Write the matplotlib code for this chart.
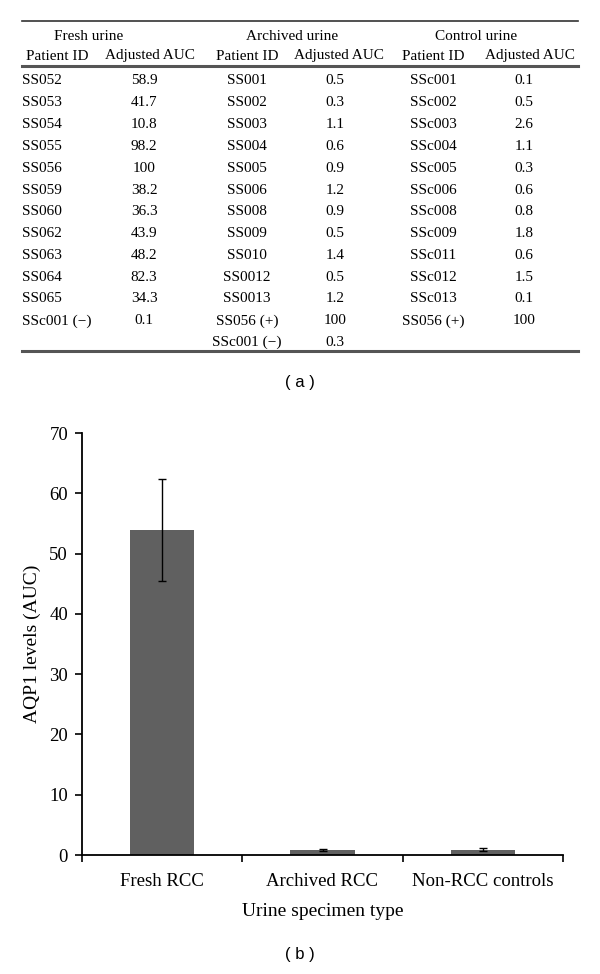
import numpy as np
import matplotlib.pyplot as plt

plt.rcParams['font.family'] = ['Liberation Serif', 'DejaVu Serif']

# table (a)
fresh_ids = ['SS052', 'SS053', 'SS054', 'SS055', 'SS056', 'SS059', 'SS060',
             'SS062', 'SS063', 'SS064', 'SS065', 'SSc001 (\u2212)']
fresh_auc = ['58.9', '41.7', '10.8', '98.2', '100', '38.2', '36.3',
             '43.9', '48.2', '82.3', '34.3', '0.1']
archived_ids = ['SS001', 'SS002', 'SS003', 'SS004', 'SS005', 'SS006', 'SS008',
                'SS009', 'SS010', 'SS0012', 'SS0013', 'SS056 (+)', 'SSc001 (\u2212)']
archived_auc = ['0.5', '0.3', '1.1', '0.6', '0.9', '1.2', '0.9',
                '0.5', '1.4', '0.5', '1.2', '100', '0.3']
control_ids = ['SSc001', 'SSc002', 'SSc003', 'SSc004', 'SSc005', 'SSc006', 'SSc008',
               'SSc009', 'SSc011', 'SSc012', 'SSc013', 'SS056 (+)']
control_auc = ['0.1', '0.5', '2.6', '1.1', '0.3', '0.6', '0.8',
               '1.8', '0.6', '1.5', '0.1', '100']
group_titles = ['Fresh urine', 'Archived urine', 'Control urine']

# bar chart (b)
categories = ['Fresh RCC', 'Archived RCC', 'Non-RCC controls']
mean_auc = [53.9, 0.83, 0.91]
sem_auc = [8.5, 0.11, 0.24]

W, H = 600, 974
fig = plt.figure(figsize=(W / 100, H / 100), dpi=100)

# overlay axes in pixel coordinates for the table
tab = fig.add_axes([0, 0, 1, 1])
tab.set_xlim(0, W)
tab.set_ylim(H, 0)
tab.axis('off')

fs = 11
tab.plot([22, 578], [21, 21], color='#333333', lw=1.2)
tab.plot([22, 578], [66, 66], color='#555555', lw=2.2)
tab.plot([22, 578], [351, 351], color='#555555', lw=2.2)

title_x = [89, 292, 476]
for x, t in zip(title_x, group_titles):
    tab.text(x, 36, t, ha='center', va='center', fontsize=fs)

id_x = [(22, 'left'), (247, 'center'), (433, 'center')]
auc_x = [144, 335, 524]
hdr_id_x = [57, 247, 433]
hdr_auc_x = [150, 339, 530]
for x in hdr_id_x:
    tab.text(x, 56, 'Patient ID', ha='center', va='center', fontsize=fs)
for x in hdr_auc_x:
    tab.text(x, 56, 'Adjusted AUC', ha='center', va='center', fontsize=fs)

cols = [(fresh_ids, fresh_auc), (archived_ids, archived_auc), (control_ids, control_auc)]
for (ids, aucs), (ix, ha), ax_ in zip(cols, id_x, auc_x):
    for i, (pid, v) in enumerate(zip(ids, aucs)):
        y = 81 + i * 21.8
        tab.text(ix, y, pid, ha=ha, va='center', fontsize=fs)
        tab.text(ax_, y, v, ha='center', va='center', fontsize=fs)

tab.text(300, 383, '( a )', ha='center', va='center', fontsize=12,
         family=['Liberation Sans', 'DejaVu Sans'])
tab.text(300, 955, '( b )', ha='center', va='center', fontsize=12,
         family=['Liberation Sans', 'DejaVu Sans'])

# bar chart
x0, x1, y0, y1 = 82, 563, 855, 433
ax = fig.add_axes([x0 / W, (H - y0) / H, (x1 - x0) / W, (y0 - y1) / H])
pos = np.arange(len(categories))
ax.bar(pos, mean_auc, width=0.4, color='#606060')
ax.errorbar(pos, mean_auc, yerr=sem_auc, fmt='none', ecolor='black',
            elinewidth=1, capsize=3, capthick=1)
ax.set_xlim(-0.5, len(categories) - 0.5)
ax.set_ylim(0, 70)
ax.set_yticks(np.arange(0, 71, 10))
ax.set_xticks(np.arange(-0.5, len(categories), 1))
ax.set_xticklabels([])
ax.set_xticks(pos, minor=True)
ax.set_xticklabels(categories, minor=True, fontsize=13.5)
ax.tick_params(axis='x', which='minor', length=0, pad=13)
ax.tick_params(axis='x', which='major', length=5, width=1.2, direction='out')
ax.tick_params(axis='y', length=5, width=1.2, direction='out', labelsize=13.5, pad=5)
for s in ['top', 'right']:
    ax.spines[s].set_visible(False)
for s in ['left', 'bottom']:
    ax.spines[s].set_linewidth(1.3)
ax.set_xlabel('Urine specimen type', fontsize=14, labelpad=9)
ax.set_ylabel('AQP1 levels (AUC)', fontsize=14, labelpad=6)

fig.savefig('out.png', dpi=100)
